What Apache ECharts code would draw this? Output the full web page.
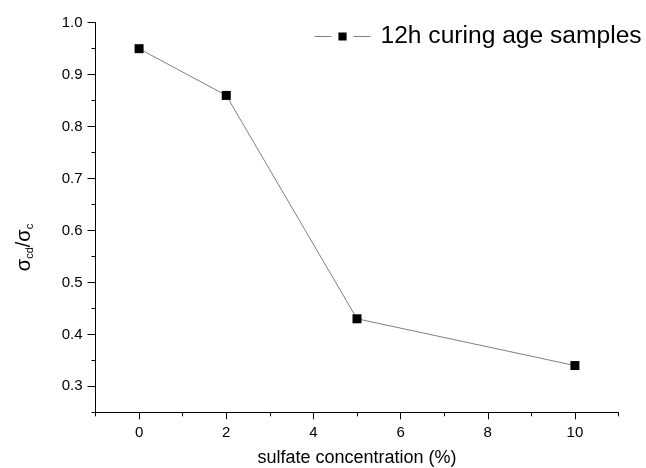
<!DOCTYPE html>
<html>
<head>
<meta charset="utf-8">
<script src="https://cdn.jsdelivr.net/npm/echarts@6/dist/echarts.min.js"></script>
<style>
html,body{margin:0;padding:0;background:#fff;}
#chart{width:646px;height:468px;}
</style>
</head>
<body>
<div id="chart"></div>
<script>
var concentrations = [0, 2, 5, 10];
var ratios = [0.95, 0.86, 0.43, 0.34];
var seriesName = '12h curing age samples';
var xTicks = [0, 2, 4, 6, 8, 10];
var yTicks = [0.3, 0.4, 0.5, 0.6, 0.7, 0.8, 0.9, 1.0];

var font = 'Liberation Sans, Arial, sans-serif';
var chart = echarts.init(document.getElementById('chart'), null, {renderer: 'canvas'});
var L = 95.5, R = 27.5, T = 22.7, B = 55.7;
var unit = (646 - L - R) / 12;
var yUnit = (468 - T - B) / 0.75;

var option = {
  animation: false,
  backgroundColor: '#fff',
  grid: [
    {left: L, right: R, top: T, bottom: B, containLabel: false, outerBoundsMode: 'none'},
    {left: L + unit, right: R + unit, top: T, bottom: B, containLabel: false, outerBoundsMode: 'none'},
    {left: L, right: R, top: T, bottom: B + yUnit * 0.05, containLabel: false, outerBoundsMode: 'none'}
  ],
  legend: {
    data: [seriesName],
    left: 309,
    top: 19,
    itemWidth: 56,
    itemHeight: 19,
    itemGap: 10,
    itemStyle: {borderColor: '#fff', borderWidth: 7},
    lineStyle: {color: '#808080', width: 1},
    textStyle: {fontFamily: font, fontSize: 24.6, color: '#000', padding: [0, 0, 0, 5]}
  },
  xAxis: [
    {
      gridIndex: 0, type: 'value', min: -1, max: 11, interval: 1,
      axisLine: {show: true, onZero: false, lineStyle: {color: '#000', width: 1}},
      axisTick: {show: true, length: 4, lineStyle: {color: '#000'}},
      axisLabel: {show: false},
      splitLine: {show: false},
      name: 'sulfate concentration (%)',
      nameLocation: 'middle',
      nameGap: 37,
      nameTextStyle: {fontFamily: font, fontSize: 18, color: '#000'}
    },
    {
      gridIndex: 1, type: 'value', min: xTicks[0], max: xTicks[xTicks.length - 1], interval: 2,
      axisLine: {show: false, onZero: false},
      axisTick: {show: true, length: 7, lineStyle: {color: '#000'}},
      axisLabel: {show: true, margin: 13, fontFamily: font, fontSize: 15, color: '#000'},
      splitLine: {show: false}
    },
    {
      gridIndex: 2, type: 'value', min: -1, max: 11, show: false
    }
  ],
  yAxis: [
    {
      gridIndex: 0, type: 'value', min: 0.25, max: 1.0, interval: 0.05,
      axisLine: {show: true, onZero: false, lineStyle: {color: '#000', width: 1}},
      axisTick: {show: true, length: 4, lineStyle: {color: '#000'}},
      axisLabel: {show: false},
      splitLine: {show: false},
      name: '{a|σ}{s|cd}{a|/σ}{s|c}',
      nameLocation: 'middle',
      nameRotate: 90,
      nameGap: 60,
      nameTextStyle: {
        padding: [0, 60, 0, 0],
        rich: {
          a: {fontFamily: font, fontSize: 20, color: '#000', lineHeight: 22, verticalAlign: 'middle'},
          s: {fontFamily: font, fontSize: 11, color: '#000', lineHeight: 10, verticalAlign: 'bottom'}
        }
      }
    },
    {
      gridIndex: 1, type: 'value', min: 0.25, max: 1.0, show: false
    },
    {
      gridIndex: 2, type: 'value', min: yTicks[0], max: yTicks[yTicks.length - 1], interval: 0.1,
      axisLine: {show: false, onZero: false},
      axisTick: {show: true, length: 8, lineStyle: {color: '#000'}},
      axisLabel: {show: true, margin: 13, fontFamily: font, fontSize: 15, color: '#000',
        formatter: function (v) { return v.toFixed(1); }},
      splitLine: {show: false}
    }
  ],
  series: [{
    name: seriesName,
    type: 'line',
    xAxisIndex: 0,
    yAxisIndex: 0,
    data: concentrations.map(function (c, i) { return [c, ratios[i]]; }),
    symbol: 'rect',
    symbolSize: 9,
    itemStyle: {color: '#000'},
    lineStyle: {color: '#808080', width: 1},
    z: 5
  }]
};
chart.setOption(option);
</script>
</body>
</html>
